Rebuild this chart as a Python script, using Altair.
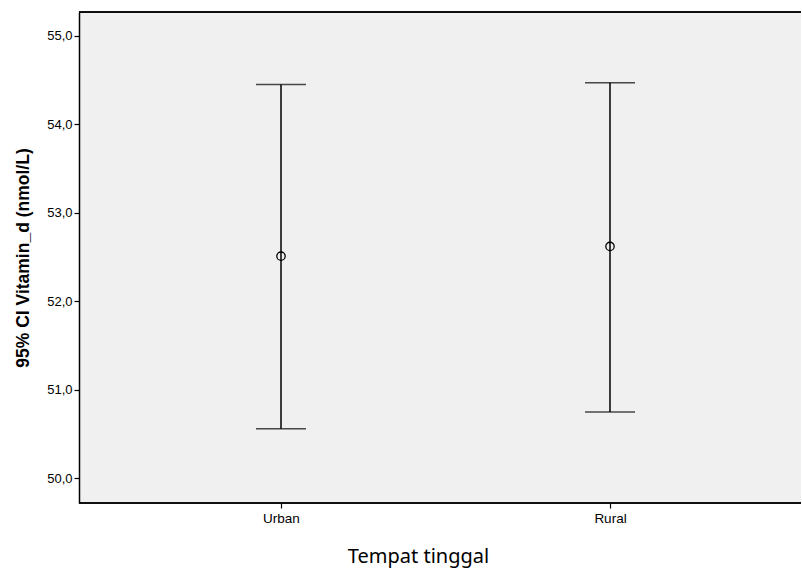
import altair as alt
import pandas as pd

categories = ["Urban", "Rural"]
means = [52.51, 52.62]
lower = [50.56, 50.75]
upper = [54.45, 54.47]

df = pd.DataFrame({"cat": categories, "mean": means, "lo": lower, "hi": upper})

xenc = alt.X("cat:O", sort=categories,
             scale=alt.Scale(type="point", range=[202, 531], padding=0),
             axis=alt.Axis(title="Tempat tinggal", labelAngle=0, labelFont="Liberation Sans",
                           labelFontSize=13.5, labelColor="#000", titleFont="Noto Sans",
                           titleFontSize=20, titleFontWeight="normal", titleColor="#000",
                           titlePadding=22, labelPadding=3, tickSize=5, tickColor="#000",
                           titleX=339, titleAlign="center", domain=False,
                           tickWidth=1.2))

yscale = alt.Scale(domain=[49.72, 55.27], nice=False, zero=False)
yaxis = alt.Axis(title="95% CI Vitamin_d (nmol/L)", values=[50, 51, 52, 53, 54, 55],
                 labelExpr="replace(format(datum.value, '.1f'), '.', ',')",
                 labelFont="Liberation Sans", labelFontSize=13, labelColor="#000",
                 titleFont="Liberation Sans", titleFontSize=17.5, titleFontWeight="bold",
                 titleColor="#000", titlePadding=14, tickSize=5, tickColor="#000",
                 domainColor="#000", tickWidth=1.2, domainWidth=1.5, grid=False, labelPadding=2)

base = alt.Chart(df)

top_border = alt.Chart(df).mark_rule(color="#000", strokeWidth=1.5).encode(y=alt.value(0))
bottom_border = alt.Chart(df).mark_rule(color="#000", strokeWidth=1.5).encode(
    y=alt.value({"expr": "height"}))
rule = base.mark_rule(color="#000", strokeWidth=1.5).encode(
    x=xenc, y=alt.Y("lo:Q", scale=yscale, axis=yaxis), y2="hi:Q")
cap_hi = base.mark_tick(color="#000", size=50, thickness=1.5).encode(x=xenc, y=alt.Y("hi:Q", scale=yscale))
cap_lo = base.mark_tick(color="#000", size=50, thickness=1.5).encode(x=xenc, y=alt.Y("lo:Q", scale=yscale))
pt = base.mark_point(shape="circle", size=70, filled=False, color="#000", strokeWidth=1.3, opacity=1).encode(
    x=xenc, y=alt.Y("mean:Q", scale=yscale))

chart = alt.layer(top_border, bottom_border, rule, cap_hi, cap_lo, pt).properties(
    width=802, height=569,
    autosize=alt.AutoSizeParams(type="fit", contains="padding"),
    padding={"left": 14, "top": 11, "right": 0, "bottom": 2},
    background="white",
).configure_view(fill="#f0f0f0", stroke=None)

chart.save("out.html", embed_options={"renderer": "svg", "actions": False})
